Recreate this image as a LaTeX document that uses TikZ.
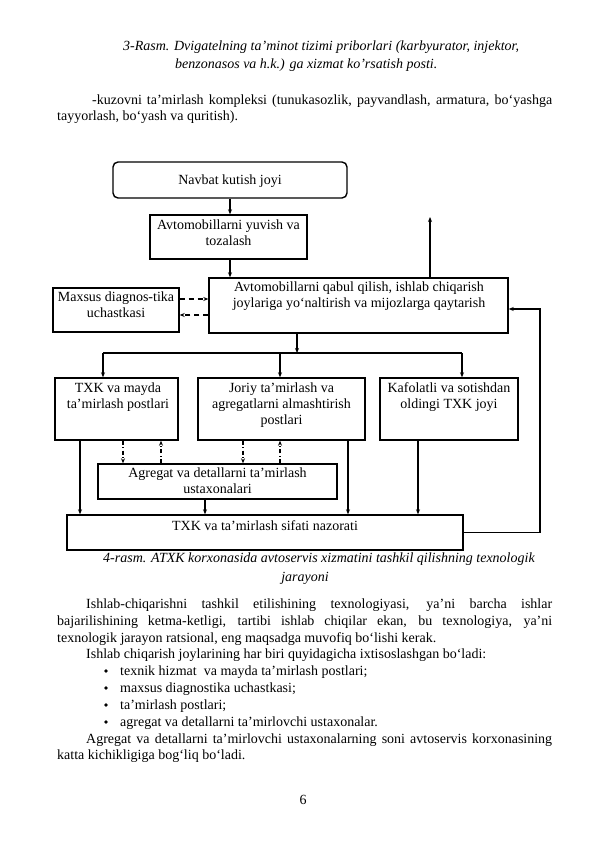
\documentclass[tikz,border=0pt]{standalone}
\usepackage{fontspec}
\setmainfont{Liberation Serif}
\usetikzlibrary{arrows.meta,calc}
\newcommand{\dfont}{\fontsize{14}{16}\selectfont}
\newcommand{\bfontx}{\fontsize{14}{16.8}\selectfont}
\newcommand{\jl}[2]{\makebox[#1][s]{#2}}
\begin{document}
\begin{tikzpicture}[x=1pt,y=-1pt,
  box/.style={draw, line width=1.4pt, inner sep=0pt},
  txt/.style={inner sep=0pt, align=center, font=\dfont, anchor=base},
  btxt/.style={inner sep=0pt, font=\bfontx, anchor=base west},
  arr/.style={line width=1.1pt, -{Stealth[length=5pt,width=4pt]}},
  dsh/.style={arr, dash pattern=on 5pt off 4pt},
  ddot/.style={arr, dash pattern=on 4pt off 2.5pt on 1pt off 2.5pt},
  ln/.style={line width=1.1pt}]
\useasboundingbox[fill=white] (0,0) rectangle (596,842);

% top caption and paragraph
\node[btxt] (cap1a) at (123,51) {\itshape 3-Rasm. Dvigatelning ta’minot tizimi priborlari (karbyurator, injektor,};
\node[btxt] (cap1b) at (175,69) {\itshape benzonasos va h.k.) ga xizmat ko’rsatish posti.};
\node[btxt] (p1a) at (92,105) {\jl{460pt}{-kuzovni ta’mirlash kompleksi (tunukasozlik, payvandlash, armatura, bo‘yashga}};
\node[btxt] (p1b) at (57,121) {tayyorlash, bo‘yash va quritish).};

% boxes
\node[box, rounded corners=5pt, minimum width=234pt, minimum height=36pt] (navbat) at (230,180) {};
\node[txt] (navbatT) at (230,185) {Navbat kutish joyi};
\node[box, minimum width=157pt, minimum height=44pt] (yuvish) at (228.5,237) {};
\node[txt] (yuvishT) at (228.5,245) {Avtomobillarni yuvish va\\tozalash};
\node[box, minimum width=299pt, minimum height=55pt] (qabul) at (358.5,305.5) {};
\node[txt] (qabulT) at (359,307) {Avtomobillarni qabul qilish, ishlab chiqarish\\joylariga yo‘naltirish va mijozlarga qaytarish};
\node[box, minimum width=126pt, minimum height=44pt] (maxsus) at (116,310) {};
\node[txt] (maxsusT) at (116,317) {Maxsus diagnos-tika\\uchastkasi};
\node[box, minimum width=123pt, minimum height=62pt] (txk) at (116.5,409) {};
\node[txt] (txkT) at (118,408) {TXK va mayda\\ta’mirlash postlari};
\node[box, minimum width=167pt, minimum height=62pt] (joriy) at (281.5,409) {};
\node[txt] (joriyT) at (281.5,424) {Joriy ta’mirlash va\\agregatlarni almashtirish\\postlari};
\node[box, minimum width=138pt, minimum height=62pt] (kafolat) at (449,409) {};
\node[txt] (kafolatT) at (449,408) {Kafolatli va sotishdan\\oldingi TXK joyi};
\node[box, minimum width=239pt, minimum height=35pt] (agregat) at (217.5,481.5) {};
\node[txt] (agregatT) at (217.5,493) {Agregat va detallarni ta’mirlash\\ustaxonalari};
\node[box, minimum width=396pt, minimum height=35pt] (nazorat) at (265,532.5) {};
\node[txt] (nazoratT) at (265,530) {TXK va ta’mirlash sifati nazorati};

% connectors
\draw[arr] (navbat.south) -- (navbat.south |- yuvish.north);
\draw[arr] (yuvish.south -| navbat.south) -- (qabul.north -| navbat.south);
\coordinate (out) at (430,217);
\draw[arr] (qabul.north -| out) -- (out);
\draw[dsh] (maxsus.east |- 0,299) -- (qabul.west |- 0,299);
\draw[dsh] (qabul.west |- 0,315) -- (maxsus.east |- 0,315);
\coordinate (split) at (297,353);
\coordinate (sl) at (103,353);
\coordinate (sr) at (462,353);
\draw[arr] (qabul.south -| split) -- (split);
\draw[ln] (sl) -- (sr);
\draw[arr] (sl) -- (txk.north -| sl);
\draw[arr] (sl -| 280,0) -- (joriy.north -| 280,0);
\draw[arr] (sr) -- (kafolat.north -| sr);
\draw[arr] (txk.south -| 80,0) -- (nazorat.north -| 80,0);
\draw[arr] (agregat.south -| 205,0) -- (nazorat.north -| 205,0);
\draw[arr] (joriy.south -| 348,0) -- (nazorat.north -| 348,0);
\draw[arr] (kafolat.south -| 418,0) -- (nazorat.north -| 418,0);
\draw[ddot] (txk.south -| 123,0) -- (agregat.north -| 123,0);
\draw[ddot] (agregat.north -| 161,0) -- (txk.south -| 161,0);
\draw[ddot] (joriy.south -| 243,0) -- (agregat.north -| 243,0);
\draw[ddot] (agregat.north -| 280,0) -- (joriy.south -| 280,0);
\coordinate (fb) at (540,0);
\coordinate (qin) at ([yshift=-3.5pt]qabul.east);
\draw[arr] (nazorat.east) -- (nazorat.east -| fb) -- (fb |- qin) -- (qin);

% bottom caption and text
\node[btxt] (cap2a) at (103,562) {\itshape 4-rasm. ATXK korxonasida avtoservis xizmatini tashkil qilishning texnologik};
\node[txt, font=\bfontx\itshape] (cap2b) at (305,581) {jarayoni};
\node[btxt] (t1) at (86,608) {\jl{466pt}{Ishlab-chiqarishni tashkil etilishining texnologiyasi, ya’ni barcha ishlar}};
\node[btxt] (t2) at (57,625) {\jl{495pt}{bajarilishining ketma-ketligi, tartibi ishlab chiqilar ekan, bu texnologiya, ya’ni}};
\node[btxt] (t3) at (57,642) {texnologik jarayon ratsional, eng maqsadga muvofiq bo‘lishi kerak.};
\node[btxt] (t4) at (86,658) {Ishlab chiqarish joylarining har biri quyidagicha ixtisoslashgan bo‘ladi:};
\foreach \yy/\tt [count=\i] in {675/{texnik hizmat\ \ va mayda ta’mirlash postlari;},692/{maxsus diagnostika uchastkasi;},709/{ta’mirlash postlari;},726/{agregat va detallarni ta’mirlovchi ustaxonalar.}}{
  \fill (106,\yy-4) circle (1.8pt);
  \node[btxt] (b\i) at (120,\yy) {\tt};
}
\node[btxt] (t5) at (86,743) {\jl{466pt}{Agregat va detallarni ta’mirlovchi ustaxonalarning soni avtoservis korxonasining}};
\node[btxt] (t6) at (57,759) {katta kichikligiga bog‘liq bo‘ladi.};
\node[txt, font=\bfontx] (pnum) at (303,804) {6};
\end{tikzpicture}
\end{document}
